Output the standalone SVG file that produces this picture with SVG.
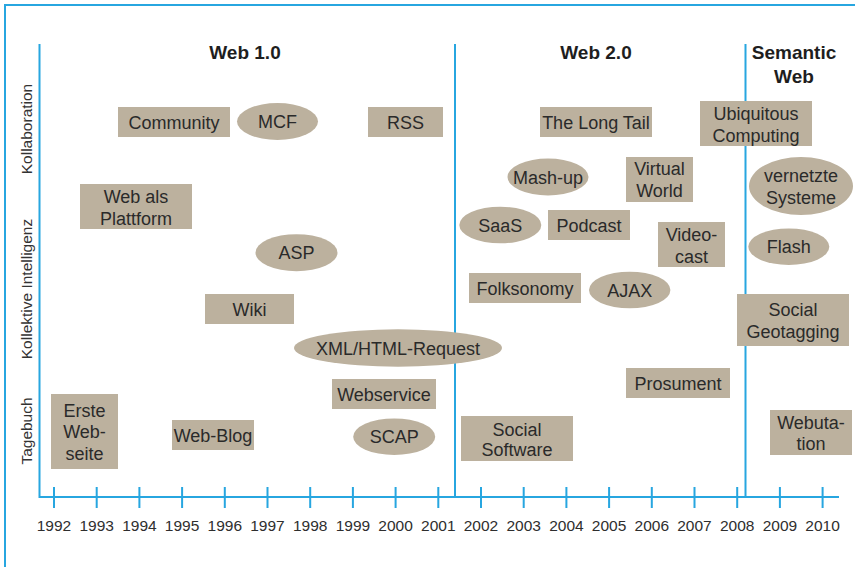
<svg xmlns="http://www.w3.org/2000/svg" width="855" height="567" viewBox="0 0 855 567">
<style>
.ln{stroke:#27a6e0;stroke-width:2;fill:none}
.bx{fill:#bcb19e}
.t{font-family:"Liberation Sans",Arial,sans-serif;font-size:18px;fill:#2a2a2a;text-anchor:middle}
.h{font-family:"Liberation Sans",Arial,sans-serif;font-size:19px;font-weight:bold;fill:#1e1e1e;text-anchor:middle}
.ax{font-family:"Liberation Sans",Arial,sans-serif;font-size:15.5px;fill:#333;text-anchor:middle}
.yr{font-family:"Liberation Sans",Arial,sans-serif;font-size:15.5px;fill:#2e2e2e;text-anchor:middle}
</style>
<rect width="855" height="567" fill="#fff"/>
<g id="frame">
<path class="ln" d="M5,567 V5 H855"/>
</g>
<g id="connectors">
<path class="ln" d="M39.5,44 V497 H839"/>
<path class="ln" d="M455,44 V497"/>
<path class="ln" d="M745.5,44 V497"/>
<path class="ln" d="M54,487V508M96.7,487V508M139.4,487V508M182.1,487V508M224.8,487V508M267.5,487V508M310.2,487V508M352.9,487V508M395.6,487V508M438.3,487V508M481,487V508M523.7,487V508M566.4,487V508M609.1,487V508M651.8,487V508M694.5,487V508M737.2,487V508M779.9,487V508M822.6,487V508"/>
</g>
<g id="years">
<text class="yr" x="54" y="531">1992</text>
<text class="yr" x="96.7" y="531">1993</text>
<text class="yr" x="139.4" y="531">1994</text>
<text class="yr" x="182.1" y="531">1995</text>
<text class="yr" x="224.8" y="531">1996</text>
<text class="yr" x="267.5" y="531">1997</text>
<text class="yr" x="310.2" y="531">1998</text>
<text class="yr" x="352.9" y="531">1999</text>
<text class="yr" x="395.6" y="531">2000</text>
<text class="yr" x="438.3" y="531">2001</text>
<text class="yr" x="481" y="531">2002</text>
<text class="yr" x="523.7" y="531">2003</text>
<text class="yr" x="566.4" y="531">2004</text>
<text class="yr" x="609.1" y="531">2005</text>
<text class="yr" x="651.8" y="531">2006</text>
<text class="yr" x="694.5" y="531">2007</text>
<text class="yr" x="737.2" y="531">2008</text>
<text class="yr" x="779.9" y="531">2009</text>
<text class="yr" x="822.6" y="531">2010</text>
</g>
<g id="axis-labels">
<text class="ax" transform="translate(32,129) rotate(-90)">Kollaboration</text>
<text class="ax" transform="translate(32,289) rotate(-90)">Kollektive Intelligenz</text>
<text class="ax" transform="translate(32,431) rotate(-90)">Tagebuch</text>
</g>
<g id="headers">
<text class="h" x="245" y="59">Web 1.0</text>
<text class="h" x="596" y="59">Web 2.0</text>
<text class="h" x="794" y="59">Semantic</text>
<text class="h" x="794" y="83">Web</text>
</g>
<g id="n-community"><rect class="bx" x="118" y="107" width="112" height="30"/><text class="t" x="174" y="128.5">Community</text></g>
<g id="n-mcf"><ellipse class="bx" cx="277.5" cy="121.5" rx="40.5" ry="18.5"/><text class="t" x="277.5" y="128">MCF</text></g>
<g id="n-rss"><rect class="bx" x="368" y="107" width="75" height="30"/><text class="t" x="405.5" y="128.5">RSS</text></g>
<g id="n-longtail"><rect class="bx" x="540" y="107" width="112" height="30"/><text class="t" x="596" y="128.5">The Long Tail</text></g>
<g id="n-ubiq"><rect class="bx" x="700" y="101" width="112" height="45"/><text class="t" x="756" y="120.3">Ubiquitous</text><text class="t" x="756" y="142">Computing</text></g>
<g id="n-mashup"><ellipse class="bx" cx="548" cy="177" rx="40.5" ry="18.5"/><text class="t" x="548" y="183.5">Mash-up</text></g>
<g id="n-virtual"><rect class="bx" x="626" y="157" width="67" height="45"/><text class="t" x="659.5" y="175.3">Virtual</text><text class="t" x="659.5" y="197">World</text></g>
<g id="n-vernetzte"><ellipse class="bx" cx="801" cy="186" rx="52" ry="29"/><text class="t" x="801" y="182">vernetzte</text><text class="t" x="801" y="203.6">Systeme</text></g>
<g id="n-webplattform"><rect class="bx" x="80" y="184" width="112" height="45"/><text class="t" x="136" y="203">Web als</text><text class="t" x="136" y="224.6">Plattform</text></g>
<g id="n-asp"><ellipse class="bx" cx="296.5" cy="252.7" rx="41" ry="18.5"/><text class="t" x="296.5" y="259.2">ASP</text></g>
<g id="n-saas"><ellipse class="bx" cx="500.3" cy="225" rx="41" ry="18.3"/><text class="t" x="500.3" y="231.5">SaaS</text></g>
<g id="n-podcast"><rect class="bx" x="548" y="210" width="82" height="30"/><text class="t" x="589" y="231.5">Podcast</text></g>
<g id="n-videocast"><rect class="bx" x="658" y="222" width="67" height="45"/><text class="t" x="691.5" y="241.3">Video-</text><text class="t" x="691.5" y="263">cast</text></g>
<g id="n-flash"><ellipse class="bx" cx="788.8" cy="246.7" rx="40.5" ry="18.3"/><text class="t" x="788.8" y="253.2">Flash</text></g>
<g id="n-wiki"><rect class="bx" x="205" y="294" width="89" height="30"/><text class="t" x="249.5" y="315.5">Wiki</text></g>
<g id="n-folksonomy"><rect class="bx" x="469" y="273" width="112" height="30"/><text class="t" x="525" y="294.5">Folksonomy</text></g>
<g id="n-ajax"><ellipse class="bx" cx="629.7" cy="290" rx="40.7" ry="18.3"/><text class="t" x="629.7" y="296.5">AJAX</text></g>
<g id="n-geotagging"><rect class="bx" x="737" y="294" width="112" height="52"/><text class="t" x="793" y="316.3">Social</text><text class="t" x="793" y="338">Geotagging</text></g>
<g id="n-xml"><ellipse class="bx" cx="398" cy="348" rx="104" ry="18.7"/><text class="t" x="398" y="354.5">XML/HTML-Request</text></g>
<g id="n-webservice"><rect class="bx" x="332" y="379" width="104" height="30"/><text class="t" x="384" y="400.5">Webservice</text></g>
<g id="n-prosument"><rect class="bx" x="626" y="368" width="104" height="30"/><text class="t" x="678" y="389.5">Prosument</text></g>
<g id="n-scap"><ellipse class="bx" cx="394.2" cy="436.7" rx="41" ry="18.3"/><text class="t" x="394.2" y="443.2">SCAP</text></g>
<g id="n-socialsoftware"><rect class="bx" x="461" y="416" width="112" height="45"/><text class="t" x="517" y="435.6">Social</text><text class="t" x="517" y="456.3">Software</text></g>
<g id="n-webutation"><rect class="bx" x="770" y="410" width="82" height="45"/><text class="t" x="811" y="429">Webuta-</text><text class="t" x="811" y="450.3">tion</text></g>
<g id="n-erste"><rect class="bx" x="51" y="394" width="67" height="75"/><text class="t" x="84.5" y="417">Erste</text><text class="t" x="84.5" y="438.3">Web-</text><text class="t" x="84.5" y="459.6">seite</text></g>
<g id="n-webblog"><rect class="bx" x="172" y="420" width="82" height="30"/><text class="t" x="213" y="441.5">Web-Blog</text></g>
</svg>
